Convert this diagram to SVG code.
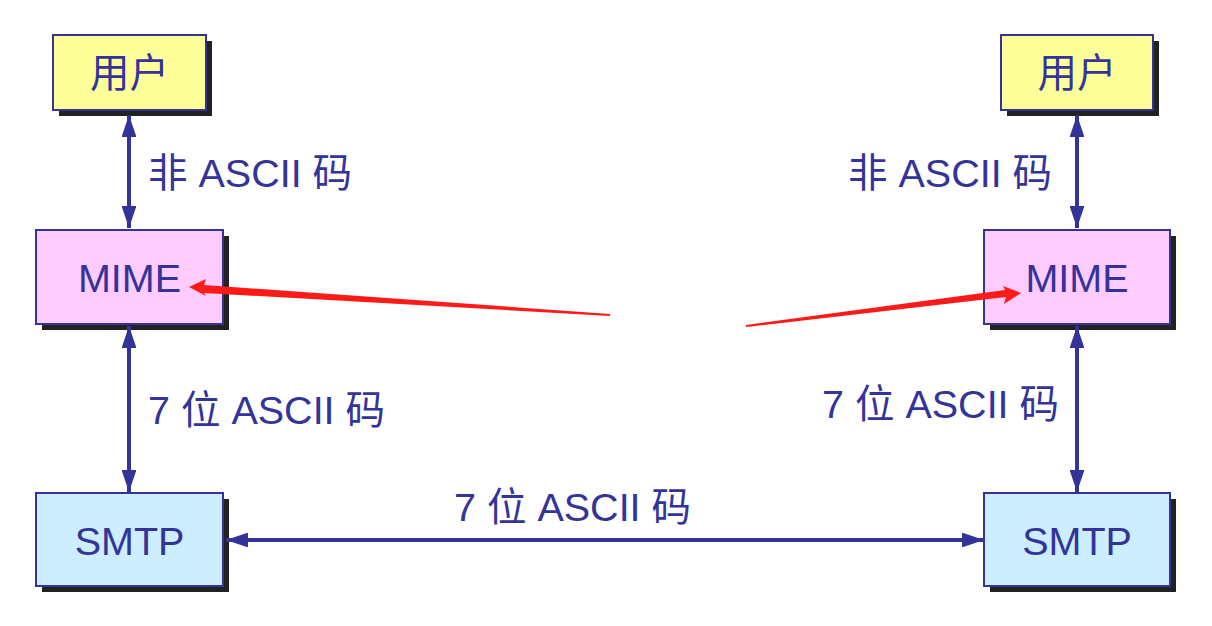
<svg xmlns="http://www.w3.org/2000/svg" width="1212" height="626" viewBox="0 0 1212 626">
<defs>
<style>
.box{stroke:#333399;stroke-width:2}
.sh{fill:#222222}
.t{font-family:"Liberation Sans","Noto Sans CJK SC",sans-serif;font-size:39.5px;fill:#333399}
.c{text-anchor:middle}
.ln{stroke:#333399;stroke-width:4;fill:none}
</style>
<marker id="ah" viewBox="0 0 10 10" refX="10" refY="5" markerWidth="5.5" markerHeight="3.7" orient="auto-start-reverse" markerUnits="strokeWidth" preserveAspectRatio="none">
<path d="M0,0 L10,5 L0,10 Z" fill="#333399"/>
</marker>
</defs>
<rect width="1212" height="626" fill="#ffffff"/>
<g id="user-left">
<rect class="sh" x="59" y="41" width="153" height="75"/>
<rect class="box" x="53" y="35" width="153" height="75" fill="#ffff99"/>
<text class="t c" x="129.5" y="87">用户</text>
</g>
<g id="user-right">
<rect class="sh" x="1007" y="41" width="152" height="75"/>
<rect class="box" x="1001" y="35" width="152" height="75" fill="#ffff99"/>
<text class="t c" x="1077" y="87">用户</text>
</g>
<g id="mime-left">
<rect class="sh" x="42" y="236" width="187" height="94"/>
<rect class="box" x="36" y="230" width="187" height="94" fill="#ffccff"/>
<text class="t c" x="129.5" y="292">MIME</text>
</g>
<g id="mime-right">
<rect class="sh" x="990" y="236" width="186" height="94"/>
<rect class="box" x="984" y="230" width="186" height="94" fill="#ffccff"/>
<text class="t c" x="1077" y="292">MIME</text>
</g>
<g id="smtp-left">
<rect class="sh" x="42" y="499" width="187" height="93"/>
<rect class="box" x="36" y="493" width="187" height="93" fill="#cceeff"/>
<text class="t c" x="129.5" y="555">SMTP</text>
</g>
<g id="smtp-right">
<rect class="sh" x="990" y="499" width="186" height="93"/>
<rect class="box" x="984" y="493" width="186" height="93" fill="#cceeff"/>
<text class="t c" x="1077" y="555">SMTP</text>
</g>
<g id="connectors">
<line class="ln" x1="129" y1="115" x2="129" y2="228" marker-start="url(#ah)" marker-end="url(#ah)"/>
<line class="ln" x1="129" y1="326" x2="129" y2="492" marker-start="url(#ah)" marker-end="url(#ah)"/>
<line class="ln" x1="1077" y1="115" x2="1077" y2="228" marker-start="url(#ah)" marker-end="url(#ah)"/>
<line class="ln" x1="1077" y1="326" x2="1077" y2="492" marker-start="url(#ah)" marker-end="url(#ah)"/>
<line class="ln" x1="226" y1="540" x2="984" y2="540" marker-start="url(#ah)" marker-end="url(#ah)"/>
<polygon points="189,287 206,279 204,285 610,314 610,316 204,293 206,296" fill="#ff1a1a"/>
<polygon points="1021,293 1003,286 1005,290 746,325 746,327 1006,297 1004,304" fill="#ff1a1a"/>
</g>
<g id="labels">
<text class="t" x="148" y="187">非 ASCII 码</text>
<text class="t" x="848" y="187">非 ASCII 码</text>
<text class="t" x="148" y="424">7 位 ASCII 码</text>
<text class="t" x="822" y="418">7 位 ASCII 码</text>
<text class="t" x="454" y="521">7 位 ASCII 码</text>
</g>
</svg>
